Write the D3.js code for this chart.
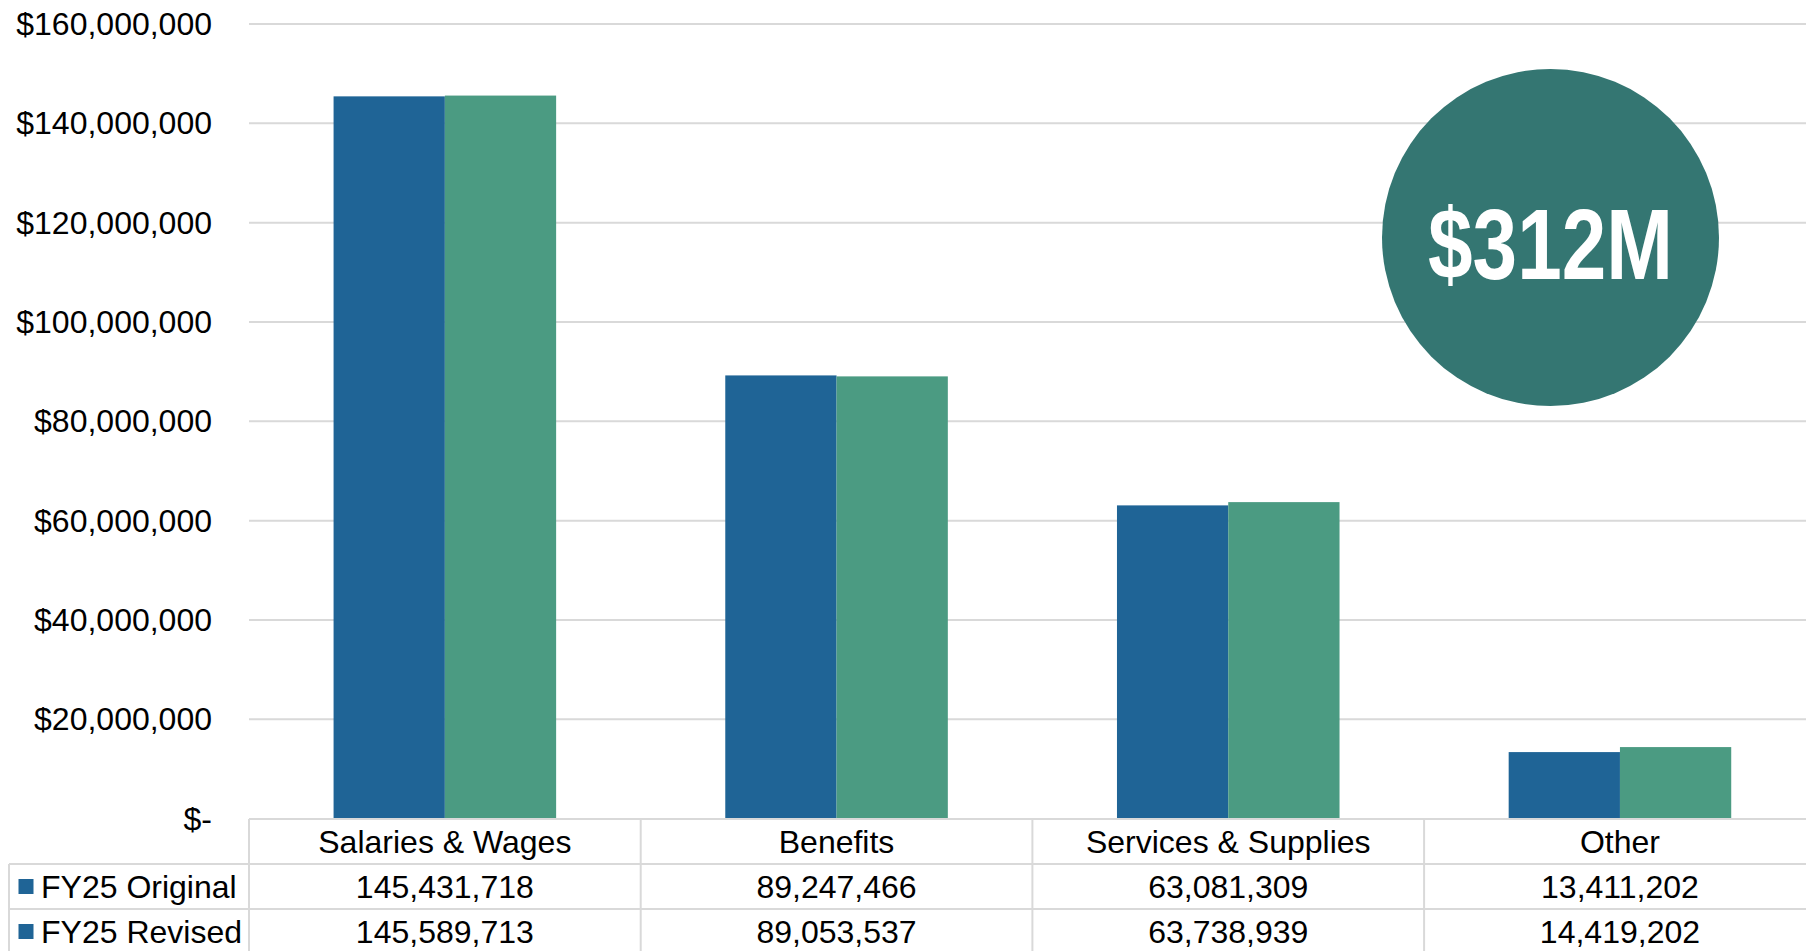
<!DOCTYPE html>
<html>
<head>
<meta charset="utf-8">
<script src="https://cdn.jsdelivr.net/npm/d3@7"></script>
<style>
  html, body { margin: 0; padding: 0; background: #fff; overflow: hidden; }
  svg { display: block; }
  text { font-family: "Liberation Sans", Arial, sans-serif; fill: #000; }
</style>
</head>
<body>
<svg id="chart" width="1806" height="951"></svg>
<script>
const categories = ["Salaries & Wages", "Benefits", "Services & Supplies", "Other"];
const seriesNames = ["FY25 Original", "FY25 Revised"];
const fy25Original = [145431718, 89247466, 63081309, 13411202];
const fy25Revised = [145589713, 89053537, 63738939, 14419202];
const yTicks = [0, 20000000, 40000000, 60000000, 80000000, 100000000, 120000000, 140000000, 160000000];
const badgeLabel = "$312M";

const seriesValues = [fy25Original, fy25Revised];
const barColors = ["#1f6496", "#4b9b82"];
const legendColors = ["#1f6496", "#1f6496"];
const gridColor = "#d9d9d9";

const W = 1806, H = 951;
const plotLeft = 249, catW = 391.7;
const plotRight = plotLeft + catW * categories.length;
const yTop = 24, yBase = 818.7;
const rowH = 45;
const legendLeft = 9;
const fontSize = "32px";

const svg = d3.select("#chart");

const x0 = d3.scaleBand().domain(categories).range([plotLeft, plotRight]).paddingInner(0).paddingOuter(0);
const x1 = d3.scaleBand().domain(seriesNames).range([0, x0.bandwidth()]).paddingInner(0).paddingOuter(0.76);
const y = d3.scaleLinear().domain([0, 160000000]).range([yBase, yTop]);

// gridlines
svg.append("g").selectAll("line").data(yTicks.filter(d => d > 0)).join("line")
  .attr("x1", plotLeft).attr("x2", plotRight)
  .attr("y1", d => y(d)).attr("y2", d => y(d))
  .attr("stroke", gridColor).attr("stroke-width", 2);

// y axis labels
const fmt = d => d === 0 ? "$-" : "$" + d3.format(",")(d);
svg.append("g").selectAll("text").data(yTicks).join("text")
  .attr("x", 212).attr("y", d => y(d))
  .attr("text-anchor", "end").attr("dominant-baseline", "central")
  .style("font-size", fontSize)
  .text(fmt);

// bars
const catG = svg.append("g").selectAll("g").data(categories).join("g")
  .attr("transform", d => `translate(${x0(d)},0)`);
catG.selectAll("rect").data((d, i) => seriesNames.map((s, j) => ({ s, v: seriesValues[j][i], j })))
  .join("rect")
  .attr("x", d => x1(d.s))
  .attr("width", x1.bandwidth())
  .attr("y", d => y(d.v))
  .attr("height", d => yBase - y(d.v))
  .attr("fill", d => barColors[d.j]);

// badge circle
const badgeG = svg.append("g");
badgeG.append("circle").attr("cx", 1550.5).attr("cy", 237.5).attr("r", 168.5).attr("fill", "#347672");
badgeG.append("text")
  .attr("x", 1550.5).attr("y", 278.5)
  .attr("text-anchor", "middle")
  .attr("textLength", 245).attr("lengthAdjust", "spacingAndGlyphs")
  .style("font-family", "'Liberation Sans Narrow', 'Liberation Sans', Arial, sans-serif")
  .style("font-weight", "bold").style("font-size", "100px").style("fill", "#fff")
  .text(badgeLabel);

// data table
const t = svg.append("g");
const tableTop = yBase + 0.3;
const rowsY = [tableTop, tableTop + rowH, tableTop + 2 * rowH, tableTop + 3 * rowH];
t.append("line").attr("x1", plotLeft).attr("x2", plotRight).attr("y1", rowsY[0]).attr("y2", rowsY[0])
  .attr("stroke", gridColor).attr("stroke-width", 2);
[rowsY[1], rowsY[2], rowsY[3]].forEach(yy => {
  t.append("line").attr("x1", legendLeft).attr("x2", plotRight).attr("y1", yy).attr("y2", yy)
    .attr("stroke", gridColor).attr("stroke-width", 2);
});
t.selectAll("line.v").data(categories).join("line").attr("class", "v")
  .attr("x1", d => x0(d)).attr("x2", d => x0(d))
  .attr("y1", rowsY[0]).attr("y2", rowsY[3])
  .attr("stroke", gridColor).attr("stroke-width", 2);
t.append("line").attr("x1", legendLeft).attr("x2", legendLeft).attr("y1", rowsY[1]).attr("y2", rowsY[3])
  .attr("stroke", gridColor).attr("stroke-width", 2);

// header
t.selectAll("text.hdr").data(categories).join("text").attr("class", "hdr")
  .attr("x", d => x0(d) + x0.bandwidth() / 2)
  .attr("y", rowsY[0] + rowH / 2)
  .attr("text-anchor", "middle").attr("dominant-baseline", "central")
  .style("font-size", fontSize)
  .text(d => d);

// rows
seriesNames.forEach((s, j) => {
  const cy = rowsY[j + 1] + rowH / 2;
  t.append("rect").attr("x", 18.5).attr("y", cy - 7.5).attr("width", 15).attr("height", 15)
    .attr("fill", legendColors[j]);
  t.append("text").attr("x", 41).attr("y", cy)
    .attr("dominant-baseline", "central").style("font-size", fontSize).text(s);
  t.selectAll("text.r" + j).data(categories).join("text").attr("class", "r" + j)
    .attr("x", d => x0(d) + x0.bandwidth() / 2)
    .attr("y", cy)
    .attr("text-anchor", "middle").attr("dominant-baseline", "central")
    .style("font-size", fontSize)
    .text((d, i) => d3.format(",")(seriesValues[j][i]));
});
</script>
</body>
</html>
